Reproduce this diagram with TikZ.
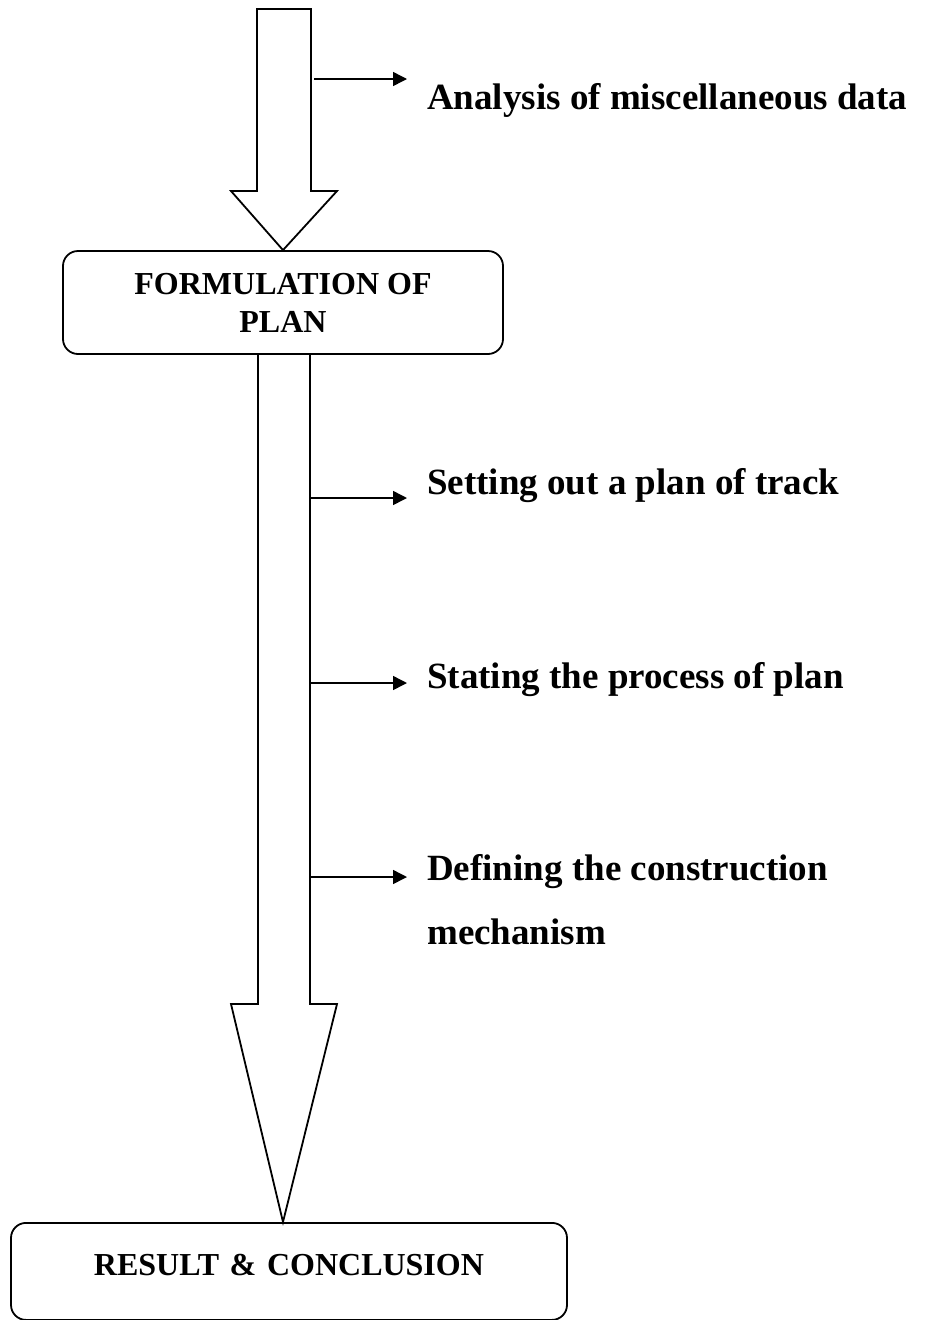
\documentclass[tikz,border=0pt]{standalone}
\usepackage{fontspec}
\setmainfont{Liberation Serif}
\usetikzlibrary{arrows.meta}

\tikzset{
  plainbox/.style={draw, line width=1.8pt, rounded corners=15pt, align=center, inner sep=0pt, font=\fontsize{32}{38}\selectfont\bfseries},
  fatarrow/.style={draw, line width=1.8pt, line join=miter},
  sidearrow/.style={-{Triangle[length=14pt, width=14pt]}, line width=1.5pt},
  sidelabel/.style={anchor=base west, inner xsep=20pt, inner ysep=0pt, align=left, font=\fontsize{37}{64}\selectfont\bfseries}
}

\begin{document}
\begin{tikzpicture}[x=1pt, y=-1pt]
\useasboundingbox (0,0) rectangle (930,1320);

% Boxes
\node[plainbox, minimum width=440pt, minimum height=103pt] (plan) at (283,302.5) {FORMULATION OF\\PLAN};
\node[plainbox, anchor=north, text width=556pt, text height=53pt, text depth=44pt] (result) at (289,1222) {RESULT \& CONCLUSION};

% Top block arrow
\draw[fatarrow] (257,9) -- (311,9) -- (311,191) -- (337,191) -- (plan.north) -- (231,191) -- (257,191) -- cycle;

% Long block arrow
\draw[fatarrow] (258,354) -- (258,1004) -- (231,1004) -- (plan.south |- result.north) -- (337,1004) -- (310,1004) -- (310,354);

% Side labels
\node[sidelabel] (ana) at (407,109) {Analysis of miscellaneous data};
\node[sidelabel] (setout) at (407,494) {Setting out a plan of track};
\node[sidelabel] (stating) at (407,688) {Stating the process of plan};
\node[sidelabel] (defining) at (407,944) {Defining the construction\\mechanism};

% Side arrows
\coordinate (s1) at (314,79);
\coordinate (s2) at (311,498);
\coordinate (s3) at (311,683);
\coordinate (s4) at (311,877);
\draw[sidearrow] (s1) -- (s1 -| ana.west);
\draw[sidearrow] (s2) -- (s2 -| setout.west);
\draw[sidearrow] (s3) -- (s3 -| stating.west);
\draw[sidearrow] (s4) -- (s4 -| defining.west);

\end{tikzpicture}
\end{document}
